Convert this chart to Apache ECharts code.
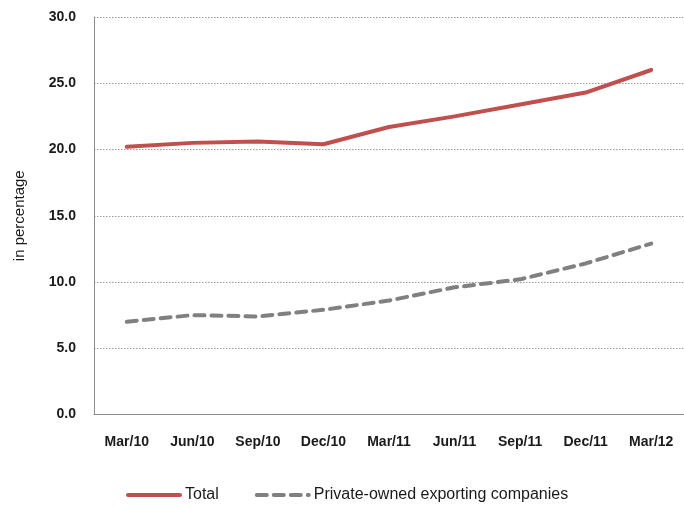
<!DOCTYPE html>
<html>
<head>
<meta charset="utf-8">
<script src="https://cdn.jsdelivr.net/npm/echarts@6/dist/echarts.min.js"></script>
<style>
  html, body { margin: 0; padding: 0; background: #fff; }
  #chart { width: 684px; height: 509px; }
</style>
</head>
<body>
<div id="chart"></div>
<script>
// Quarterly shares, in percent
const quarters = ['Mar/10', 'Jun/10', 'Sep/10', 'Dec/10', 'Mar/11', 'Jun/11', 'Sep/11', 'Dec/11', 'Mar/12'];
const totalShare = [20.2, 20.5, 20.6, 20.4, 21.7, 22.5, 23.4, 24.3, 26.0];
const privateShare = [7.0, 7.5, 7.4, 7.9, 8.6, 9.6, 10.2, 11.4, 12.9];
const seriesNames = ['Total', 'Private-owned exporting companies'];

const font = '"Liberation Sans Narrow", "Arial Narrow", "Liberation Sans", Arial, sans-serif';

const chart = echarts.init(document.getElementById('chart'), null, { renderer: 'canvas' });
chart.setOption({
  animation: false,
  backgroundColor: '#ffffff',
  grid: { left: 94, top: 17, right: -8, bottom: 94.5, containLabel: false },
  legend: {
    left: 126,
    top: 487,
    padding: 0,
    itemWidth: 52,
    itemHeight: 14,
    itemGap: 36,
    itemStyle: { opacity: 0 },
    lineStyle: { width: 4 },
    textStyle: { fontFamily: font, fontSize: 16, color: '#1a1a1a' },
    data: seriesNames
  },
  xAxis: {
    type: 'category',
    data: quarters,
    boundaryGap: true,
    axisLine: { show: true, lineStyle: { color: '#8c8c8c', width: 1 } },
    axisTick: { show: false },
    axisLabel: { fontFamily: font, fontSize: 14, fontWeight: 'bold', color: '#1a1a1a', margin: 21 },
    splitLine: { show: false }
  },
  yAxis: {
    type: 'value',
    min: 0,
    max: 30,
    interval: 5,
    name: 'in percentage',
    nameLocation: 'middle',
    nameGap: 67,
    nameTextStyle: { fontFamily: font, fontSize: 15, color: '#1a1a1a' },
    axisLine: { show: true, lineStyle: { color: '#8c8c8c', width: 1 } },
    axisTick: { show: false },
    axisLabel: {
      fontFamily: font, fontSize: 14, fontWeight: 'bold', color: '#1a1a1a', margin: 18,
      formatter: v => v.toFixed(1)
    },
    splitLine: { show: true, lineStyle: { color: '#9a9a9a', type: [1.5, 1.5], width: 1 } }
  },
  series: [
    {
      name: seriesNames[0],
      type: 'line',
      data: totalShare,
      symbol: 'none',
      lineStyle: { color: '#c0504d', width: 4, cap: 'round' },
      itemStyle: { color: '#c0504d' }
    },
    {
      name: seriesNames[1],
      type: 'line',
      data: privateShare,
      symbol: 'none',
      lineStyle: { color: '#808080', width: 4, type: [10, 7], cap: 'round' },
      itemStyle: { color: '#808080' }
    }
  ]
});
</script>
</body>
</html>
